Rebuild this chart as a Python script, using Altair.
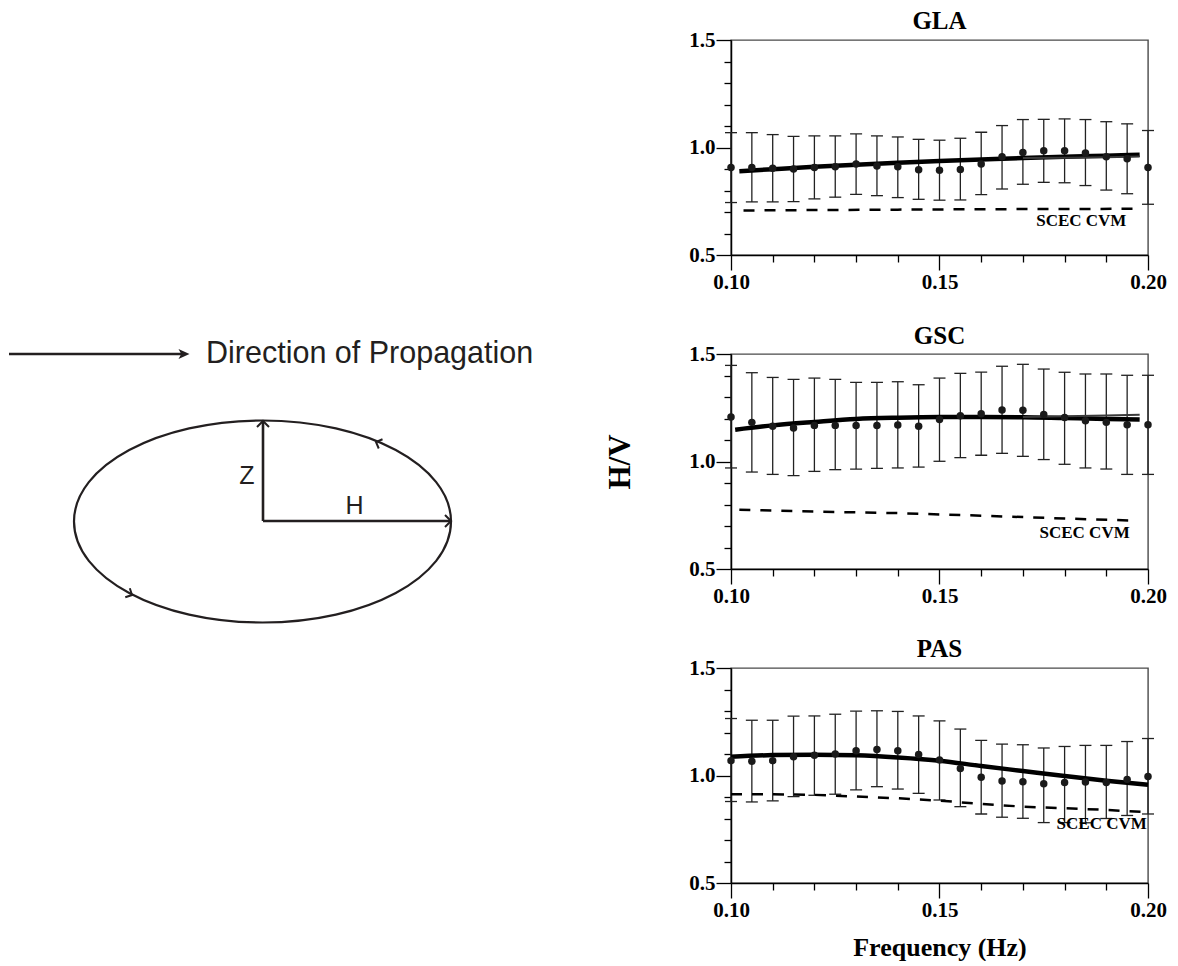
import altair as alt
import pandas as pd

# ---------------- data ----------------
FREQ = [0.100, 0.105, 0.110, 0.115, 0.120, 0.125, 0.130, 0.135, 0.140, 0.145, 0.150,
        0.155, 0.160, 0.165, 0.170, 0.175, 0.180, 0.185, 0.190, 0.195, 0.200]

GLA_MEAN = [0.907, 0.907, 0.904, 0.900, 0.907, 0.910, 0.923, 0.914, 0.910, 0.897, 0.894,
            0.898, 0.923, 0.957, 0.977, 0.985, 0.985, 0.974, 0.957, 0.948, 0.907]
GLA_HI = [1.069, 1.069, 1.060, 1.052, 1.054, 1.054, 1.063, 1.054, 1.049, 1.038, 1.034,
          1.043, 1.071, 1.102, 1.130, 1.131, 1.133, 1.130, 1.120, 1.110, 1.079]
GLA_LO = [0.744, 0.747, 0.747, 0.748, 0.761, 0.769, 0.782, 0.776, 0.767, 0.759, 0.755,
          0.756, 0.781, 0.807, 0.829, 0.838, 0.836, 0.823, 0.802, 0.785, 0.736]
GLA_FIT_F = [0.102, 0.11, 0.12, 0.13, 0.14, 0.15, 0.16, 0.17, 0.18, 0.19, 0.198]
GLA_FIT_V = [0.890, 0.899, 0.910, 0.920, 0.929, 0.937, 0.944, 0.951, 0.957, 0.962, 0.966]
GLA_FIT2_F = [0.17, 0.18, 0.19, 0.198]
GLA_FIT2_V = [0.951, 0.952, 0.955, 0.958]
GLA_CVM_F = [0.103, 0.12, 0.14, 0.16, 0.18, 0.197]
GLA_CVM_V = [0.707, 0.709, 0.711, 0.713, 0.714, 0.715]
GLA_LABEL = [0.184, 0.656]

GSC_MEAN = [1.207, 1.182, 1.164, 1.156, 1.168, 1.168, 1.167, 1.167, 1.170, 1.164, 1.195,
            1.213, 1.222, 1.240, 1.238, 1.219, 1.205, 1.190, 1.182, 1.171, 1.171]
GSC_HI = [1.447, 1.413, 1.391, 1.382, 1.388, 1.382, 1.368, 1.368, 1.371, 1.357, 1.388,
          1.410, 1.416, 1.443, 1.452, 1.430, 1.415, 1.407, 1.407, 1.401, 1.401]
GSC_LO = [0.970, 0.951, 0.940, 0.934, 0.954, 0.962, 0.965, 0.968, 0.970, 0.974, 1.001,
          1.018, 1.029, 1.038, 1.024, 1.009, 0.987, 0.970, 0.965, 0.940, 0.940]
GSC_FIT_F = [0.101, 0.11, 0.12, 0.13, 0.14, 0.15, 0.16, 0.17, 0.18, 0.19, 0.198]
GSC_FIT_V = [1.148, 1.168, 1.184, 1.198, 1.204, 1.207, 1.207, 1.206, 1.202, 1.198, 1.195]
GSC_FIT2_F = [0.17, 0.18, 0.19, 0.198]
GSC_FIT2_V = [1.207, 1.210, 1.214, 1.218]
GSC_CVM_F = [0.102, 0.12, 0.14, 0.16, 0.18, 0.197]
GSC_CVM_V = [0.776, 0.767, 0.760, 0.748, 0.735, 0.725]
GSC_LABEL = [0.1848, 0.667]

PAS_MEAN = [1.069, 1.066, 1.069, 1.087, 1.094, 1.100, 1.115, 1.121, 1.115, 1.098, 1.072,
            1.033, 0.992, 0.974, 0.971, 0.962, 0.967, 0.970, 0.967, 0.982, 0.995]
PAS_HI = [1.265, 1.257, 1.257, 1.276, 1.277, 1.285, 1.299, 1.301, 1.298, 1.277, 1.254,
          1.216, 1.163, 1.146, 1.143, 1.128, 1.135, 1.140, 1.140, 1.158, 1.172]
PAS_LO = [0.879, 0.877, 0.882, 0.902, 0.908, 0.913, 0.933, 0.948, 0.937, 0.917, 0.886,
          0.855, 0.821, 0.806, 0.801, 0.781, 0.781, 0.780, 0.800, 0.814, 0.821]
PAS_FIT_F = [0.10, 0.11, 0.12, 0.13, 0.14, 0.15, 0.16, 0.17, 0.18, 0.19, 0.20]
PAS_FIT_V = [1.087, 1.095, 1.097, 1.094, 1.084, 1.069, 1.044, 1.021, 0.998, 0.976, 0.957]
PAS_CVM_F = [0.10, 0.11, 0.12, 0.13, 0.14, 0.15, 0.16, 0.17, 0.18, 0.19, 0.20]
PAS_CVM_V = [0.913, 0.913, 0.910, 0.902, 0.894, 0.883, 0.868, 0.855, 0.848, 0.840, 0.829]
PAS_LABEL = [0.1889, 0.774]

X_TICKS = [0.10, 0.11, 0.12, 0.13, 0.14, 0.15, 0.16, 0.17, 0.18, 0.19, 0.20]
Y_TICKS = [0.5, 0.6, 0.7, 0.8, 0.9, 1.0, 1.1, 1.2, 1.3, 1.4, 1.5]

# ---------------- schematic (page coordinates of the drawing) ----------------
SEG_X1 = [8, 262, 262]
SEG_Y1 = [354, 521, 521]
SEG_X2 = [181, 262, 449]
SEG_Y2 = [354, 421, 521]
HEAD_X = [262, 450, 375, 131]
HEAD_Y = [421, 521, 442, 595]
HEAD_ANGLE = [270, 0, 202, 27]
HEAD_SIZE = [144, 144, 100, 100]
ARROW_TIP = [183, 354]
ELLIPSE_C = [261.5, 521.5]
LBL_TEXT = ["Z", "H"]
LBL_X = [246, 353.5]
LBL_Y = [476, 506]
PROP_TEXT = "Direction of Propagation"
PROP_XY = [205, 354]

SERIF = "Liberation Serif"
SANS = "Liberation Sans"
INK = "#231f20"

ELLIPSE_PATH = ("M 1 0 C 1 0.2959 0.5523 0.5358 0 0.5358 "
                "C -0.5523 0.5358 -1 0.2959 -1 0 "
                "C -1 -0.2959 -0.5523 -0.5358 0 -0.5358 "
                "C 0.5523 -0.5358 1 -0.2959 1 0 Z")
CHEVRON = "M -1 -1 L 0 0 L -1 1"
ARROWHEAD = "M 1 0 L -1 -0.9 L -0.5 0 L -1 0.9 Z"

PW, PH = 417, 215


def make_layers(mean, hi, lo, fit_f, fit_v, fit2_f, fit2_v, cvm_f, cvm_v, lab,
                ytitle=None, xtitle=None):
    xs = alt.Scale(domain=[0.1, 0.2], nice=False, zero=False)
    ys = alt.Scale(domain=[0.5, 1.5], nice=False, zero=False)
    xaxis = alt.Axis(
        values=X_TICKS, title=xtitle, titlePadding=14, titleFontSize=26,
        labelExpr="abs(datum.value*20 - round(datum.value*20)) < 0.01 ? format(datum.value, '.2f') : ''",
        tickSize={"condition": {"test": "abs(datum.value*20 - round(datum.value*20)) < 0.01", "value": 15}, "value": 7},
        labelPadding=1, labelFlush=False, labelOverlap=False)
    yaxis = alt.Axis(
        values=Y_TICKS, title=ytitle, titlePadding=52, titleFontSize=31,
        labelExpr="abs(datum.value*2 - round(datum.value*2)) < 0.01 ? format(datum.value, '.1f') : ''",
        tickSize={"condition": {"test": "abs(datum.value*2 - round(datum.value*2)) < 0.01", "value": 15}, "value": 7},
        labelPadding=1, labelOverlap=False)

    def X(f):
        return alt.X(f, type="quantitative", scale=xs, axis=xaxis)

    def Y(f):
        return alt.Y(f, type="quantitative", scale=ys, axis=yaxis)

    pts = alt.Chart(pd.DataFrame({"f": FREQ, "v": mean, "hi": hi, "lo": lo}))
    bars = pts.mark_rule(color="#222", strokeWidth=1.3).encode(x=X("f"), y=Y("lo"), y2="hi:Q")
    cap_hi = pts.mark_tick(orient="horizontal", size=12, thickness=1.3, color="#222", opacity=1).encode(x=X("f"), y=Y("hi"))
    cap_lo = pts.mark_tick(orient="horizontal", size=12, thickness=1.3, color="#222", opacity=1).encode(x=X("f"), y=Y("lo"))
    dots = pts.mark_circle(size=56, color="#1a1a1a", opacity=1).encode(x=X("f"), y=Y("v"))
    fit = alt.Chart(pd.DataFrame({"f": fit_f, "v": fit_v})).mark_line(
        color="black", strokeWidth=4.5, interpolate="monotone").encode(x=X("f"), y=Y("v"))
    cvm = alt.Chart(pd.DataFrame({"f": cvm_f, "v": cvm_v})).mark_line(
        color="black", strokeWidth=2.5, strokeDash=[11, 10]).encode(x=X("f"), y=Y("v"))
    label = alt.Chart(pd.DataFrame({"f": [lab[0]], "v": [lab[1]], "t": ["SCEC CVM"]})).mark_text(
        font=SERIF, fontSize=17, fontWeight="bold", color="black", baseline="middle").encode(
        x=X("f"), y=Y("v"), text="t:N")
    layers = [bars, cap_hi, cap_lo, cvm, fit]
    if fit2_f:
        fit2 = alt.Chart(pd.DataFrame({"f": fit2_f, "v": fit2_v})).mark_line(
            color="#3a3a3a", strokeWidth=2).encode(x=X("f"), y=Y("v"))
        layers.append(fit2)
    layers += [dots, label]
    return layers


def ptitle(t, off):
    return alt.TitleParams(t, font=SERIF, fontSize=25, fontWeight="bold", color="black",
                           offset=off, anchor="middle", frame="group")


# ---------------- schematic layers ----------------
DX = alt.Scale(domain=[730, 730 + PW], nice=False, zero=False)
DY = alt.Scale(domain=[354 + PH, 354], nice=False, zero=False)


def DXe(f):
    return alt.X(f, type="quantitative", scale=DX, axis=None)


def DYe(f):
    return alt.Y(f, type="quantitative", scale=DY, axis=None)


segs = alt.Chart(pd.DataFrame({"x": SEG_X1, "y": SEG_Y1, "x2": SEG_X2, "y2": SEG_Y2})).mark_rule(
    color=INK, strokeWidth=2.6).encode(x=DXe("x"), y=DYe("y"), x2="x2:Q", y2="y2:Q")
heads = alt.Chart(pd.DataFrame({"x": HEAD_X, "y": HEAD_Y, "a": HEAD_ANGLE, "s": HEAD_SIZE})).mark_point(
    shape=CHEVRON, filled=False, color=INK, strokeWidth=2, opacity=1).encode(
    x=DXe("x"), y=DYe("y"), angle=alt.Angle("a:Q", scale=None), size=alt.Size("s:Q", scale=None, legend=None))
tip = alt.Chart(pd.DataFrame({"x": [ARROW_TIP[0]], "y": [ARROW_TIP[1]]})).mark_point(
    shape=ARROWHEAD, filled=True, color=INK, size=121, opacity=1).encode(x=DXe("x"), y=DYe("y"))
ellipse = alt.Chart(pd.DataFrame({"x": [ELLIPSE_C[0]], "y": [ELLIPSE_C[1]]})).mark_point(
    shape=ELLIPSE_PATH, filled=False, color=INK, strokeWidth=2.2, size=377 * 377, opacity=1).encode(
    x=DXe("x"), y=DYe("y"))
zh = alt.Chart(pd.DataFrame({"x": LBL_X, "y": LBL_Y, "t": LBL_TEXT})).mark_text(
    font=SANS, fontSize=25, color=INK, align="center", baseline="middle").encode(
    x=DXe("x"), y=DYe("y"), text="t:N")
prop = alt.Chart(pd.DataFrame({"x": [PROP_XY[0]], "y": [PROP_XY[1]], "t": [PROP_TEXT]})).mark_text(
    font=SANS, fontSize=30.5, color=INK, align="left", baseline="middle").encode(
    x=DXe("x"), y=DYe("y"), text="t:N")
diagram = alt.layer(segs, heads, tip, ellipse, zh, prop)

# ---------------- panels ----------------
p1 = alt.layer(*make_layers(GLA_MEAN, GLA_HI, GLA_LO, GLA_FIT_F, GLA_FIT_V, GLA_FIT2_F, GLA_FIT2_V,
                            GLA_CVM_F, GLA_CVM_V, GLA_LABEL)).properties(
    width=PW, height=PH, title=ptitle("GLA", -5))
p2_inner = alt.layer(*make_layers(GSC_MEAN, GSC_HI, GSC_LO, GSC_FIT_F, GSC_FIT_V, GSC_FIT2_F, GSC_FIT2_V,
                                  GSC_CVM_F, GSC_CVM_V, GSC_LABEL, ytitle="H/V"))
p2 = alt.layer(p2_inner, diagram).resolve_scale(x="independent", y="independent").properties(
    width=PW, height=PH, title=ptitle("GSC", -10))
p3 = alt.layer(*make_layers(PAS_MEAN, PAS_HI, PAS_LO, PAS_FIT_F, PAS_FIT_V, None, None,
                            PAS_CVM_F, PAS_CVM_V, PAS_LABEL, xtitle="Frequency (Hz)")).properties(
    width=PW, height=PH, title=ptitle("PAS", -5))

chart = alt.vconcat(p1, p2, p3, spacing=99, bounds="flush").properties(
    padding={"left": 7, "top": 8, "right": 5, "bottom": 0}
).configure_view(stroke="#4a4a4a", strokeWidth=1.4).configure_axis(
    domainColor="black", domainWidth=1.5, tickColor="black", tickWidth=1.3,
    labelFont=SERIF, labelFontSize=21, labelFontWeight="bold", labelColor="black", grid=False,
    titleFont=SERIF, titleFontWeight="bold", titleColor="black")

chart.save("out.html", embed_options={"renderer": "svg", "actions": False})
